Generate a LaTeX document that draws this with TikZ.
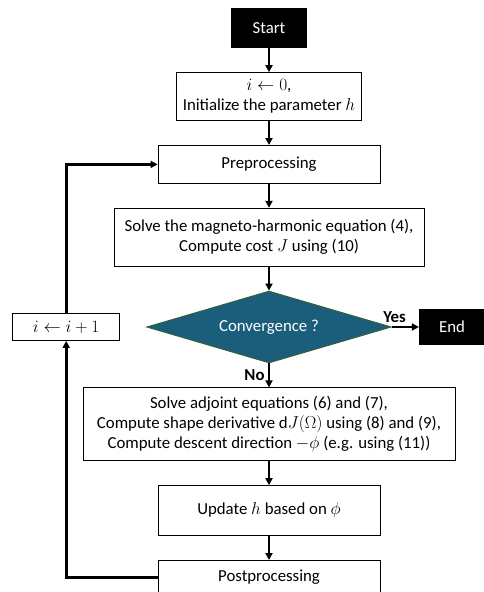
\documentclass[tikz,border=0pt]{standalone}
\usepackage{fontspec}
\setmainfont{Carlito}
\usepackage{tikz}
\usetikzlibrary{shapes.geometric, arrows.meta, positioning}
\definecolor{DiamondBlue}{HTML}{1b5e7b}
\definecolor{DiamondEdge}{HTML}{3a5f2c}

\begin{document}
\begin{tikzpicture}[
    node distance=24pt and 26pt,
    every node/.style={font=\fontsize{16.8}{20}\selectfont},
    block/.style={rectangle, draw=black, line width=0.8pt, fill=white, inner sep=0pt,
                  align=center, minimum width=222pt},
    terminal/.style={rectangle, fill=black, text=white, inner sep=0pt},
    decision/.style={diamond, aspect=3.4, draw=DiamondEdge, line width=0.8pt, fill=DiamondBlue,
                     text=white, inner sep=0pt, minimum width=245pt, minimum height=72pt},
    arrow/.style={-{Triangle[length=7pt,width=7pt]}, line width=2.2pt},
    loop/.style={-{Triangle[length=7pt,width=7pt]}, line width=2.8pt},
    tag/.style={font=\fontsize{16.8}{20}\selectfont\bfseries}
]
\useasboundingbox (0,0) rectangle (484pt,-592pt);

\node[terminal, minimum width=76pt, minimum height=40pt] (start) at (269pt,-28pt) {Start};
\node[block, below=of start, minimum width=185pt, minimum height=48pt] (init)
    {$i \leftarrow 0$,\\Initialize the parameter $h$};
\node[block, below=of init, minimum height=38pt] (pre) {Preprocessing};
\node[block, below=of pre, minimum width=310pt, minimum height=58pt] (solve)
    {Solve the magneto-harmonic equation (4),\\Compute cost $J$ using (10)};
\node[decision, below=of solve] (conv) {Convergence ?};
\node[block, below=of conv, minimum width=372pt, minimum height=73pt] (adj)
    {Solve adjoint equations (6) and (7),\\Compute shape derivative $\mathrm{d}J(\Omega)$ using (8) and (9),\\Compute descent direction $-\phi$ (e.g. using (11))};
\node[block, below=of adj, minimum height=50pt] (upd) {Update $h$ based on $\phi$};
\node[block, below=of upd, minimum height=34pt] (post) {Postprocessing};

\node[block, left=of conv, minimum width=107pt, minimum height=27pt] (inc) {$i \leftarrow i+1$};
\node[terminal, right=27pt of conv, minimum width=66pt, minimum height=36pt] (fin) {End};

\draw[arrow] (start) -- (init);
\draw[arrow] (init) -- (pre);
\draw[arrow] (pre) -- (solve);
\draw[arrow] (solve) -- (conv);
\draw[arrow] (conv) -- node[tag, left] {No} (adj);
\draw[arrow] (adj) -- (upd);
\draw[arrow] (upd) -- (post);
\draw[arrow] (conv) -- node[tag, above, pos=0.1] {Yes} (fin);

% loop back
\draw[loop] (post.west) -| (inc.south);
\draw[loop] (inc.north) |- (pre.west);

\end{tikzpicture}
\end{document}
